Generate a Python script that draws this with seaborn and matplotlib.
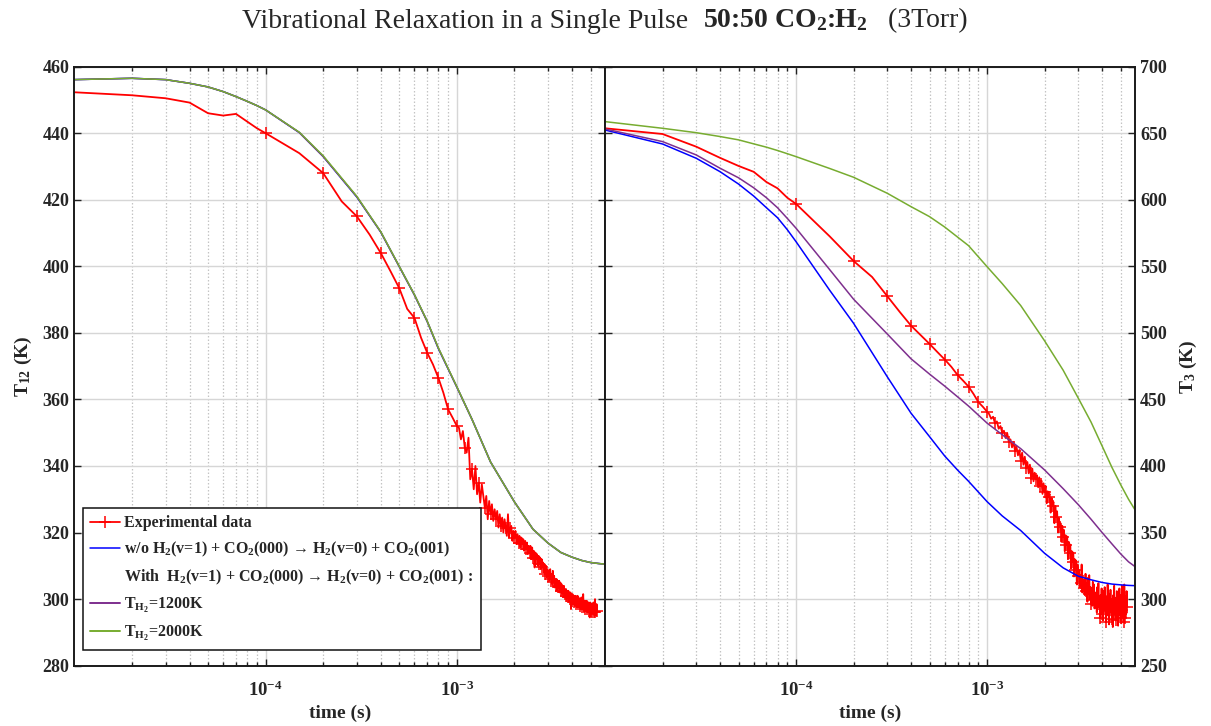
import matplotlib
matplotlib.use("Agg")
import matplotlib.pyplot as plt
import numpy as np
import pandas as pd
import seaborn as sns
from matplotlib.lines import Line2D
from matplotlib.ticker import LogLocator, NullFormatter, FixedLocator, LogFormatterSciNotation

# ---------------- data ----------------
# model time grid (microseconds)
t_model_us = [10, 20, 30, 40, 50, 60, 70, 80, 90, 100, 150, 200, 300, 400, 500, 600, 700, 800,
              1000, 1200, 1500, 2000, 2500, 3000, 3500, 4000, 4500, 5000, 5500, 5950]

# left panel (T12) models
t12_wo = [456.1, 456.5, 456.1, 455.0, 453.9, 452.5, 451.0, 449.6, 448.3, 447.0, 440.2, 433.0, 420.8, 410.3,
          399.9, 391.4, 383.4, 375.3, 363.7, 354.0, 341.2, 329.2, 321.0, 316.8, 314.0, 312.6, 311.6, 311.0, 310.7, 310.5]
t12_1200 = [456.1, 456.5, 456.1, 455.0, 453.9, 452.5, 451.0, 449.6, 448.3, 447.0, 440.2, 433.0, 420.9, 410.3,
            399.9, 391.4, 383.4, 375.4, 363.7, 354.0, 341.2, 329.2, 321.0, 316.8, 314.0, 312.6, 311.6, 311.0, 310.7, 310.5]
t12_2000 = [456.1, 456.5, 456.1, 455.0, 453.9, 452.5, 451.0, 449.6, 448.3, 447.0, 440.3, 433.2, 421.0, 410.4,
            400.0, 391.5, 383.5, 375.5, 363.8, 354.0, 341.2, 329.2, 321.0, 316.8, 314.0, 312.6, 311.6, 311.0, 310.7, 310.5]

# right panel (T3) models
t3_wo = [652.4, 641.9, 631.2, 621.1, 611.8, 602.8, 594.0, 586.5, 577.5, 568.5, 532.0, 507.2, 467.1, 439.6,
         422.0, 407.5, 397.0, 388.5, 373.2, 362.5, 351.5, 334.4, 323.5, 317.2, 314.5, 312.5, 311.3, 310.7, 310.3, 310.1]
t3_1200 = [653.2, 643.7, 633.7, 623.7, 616.5, 609.0, 601.5, 594.0, 586.0, 578.6, 547.5, 525.3, 499.2, 480.5,
           469.0, 460.0, 452.0, 445.0, 432.2, 423.5, 413.0, 397.0, 383.0, 371.0, 360.0, 350.0, 341.5, 334.0, 328.0, 324.4]
t3_2000 = [658.7, 653.7, 650.4, 647.5, 645.0, 642.0, 639.5, 637.0, 634.6, 632.4, 623.5, 616.9, 604.9, 594.8,
           587.3, 579.5, 572.0, 565.5, 549.7, 537.0, 520.5, 494.0, 472.0, 451.0, 433.0, 415.0, 399.0, 386.0, 375.0, 367.0]

# experimental sample times (microseconds)
t_exp_us = list(range(10, 101, 10)) + list(range(150, 1001, 50)) + list(range(1025, 5401, 25))

t12_exp = [
    452.3, 451.4, 450.5, 449.2, 446.0, 445.3, 445.8, 443.5, 441.5, 440.0,
    434.0, 428.0, 419.5, 415.0, 409.5, 404.0, 398.5, 393.4, 387.2, 384.5, 378.5, 374.0, 370.5, 366.5, 362.0, 357.0, 354.5, 352.0,
    351.5, 348.0, 350.5, 345.5,  344.0, 348.5, 336.0, 339.0,  333.0, 340.0, 331.5, 335.0,  329.0, 334.5, 331.0, 327.5,
    331.0, 324.0, 329.5, 325.5,  328.5, 323.5, 327.0, 324.0,  326.5, 321.5, 325.5, 322.0,  324.5, 320.0, 324.0, 321.5,
    319.0, 325.5, 318.5, 321.5,  322.0, 317.5, 320.5, 318.5,  320.5, 316.5, 319.5, 317.0,  319.0, 315.5, 318.5, 316.5,
    318.0, 314.5, 317.5, 315.0,  317.0, 313.5, 316.0, 314.0,  316.0, 312.0, 315.5, 312.5,  314.5, 309.5, 314.0, 312.0,
    313.5, 310.0, 313.0, 310.5,  312.5, 309.0, 312.0, 309.5,  311.0, 308.0, 310.5, 307.5,  310.0, 306.5, 309.0, 307.0,
    308.5, 305.5, 309.0, 306.0,  307.5, 304.5, 308.5, 305.0,  307.0, 303.5, 306.0, 304.0,  306.0, 302.5, 305.5, 303.5,
    305.5, 302.0, 305.0, 302.5,  304.5, 301.5, 304.0, 302.0,  304.0, 300.5, 303.0, 301.0,  303.0, 300.0, 302.5, 300.5,
    302.5, 299.5, 302.0, 300.0,  302.0, 297.0, 301.5, 299.5,  301.5, 298.5, 301.0, 299.0,  301.0, 298.0, 301.0, 298.5,
    300.5, 297.5, 301.0, 298.5,  300.5, 297.5, 300.0, 298.0,  300.0, 297.0, 300.5, 297.5,  299.5, 297.0, 301.5, 297.5,
    299.5, 296.5, 299.5, 297.0,  299.0, 296.5, 299.5, 297.0,  299.0, 296.0, 299.0, 296.5,  298.5, 294.5, 299.0, 296.5,
    298.5, 295.5, 298.5, 296.0,  298.0, 295.5, 299.0, 296.0,  298.0, 295.0, 300.0, 296.0,  297.5, 295.0, 298.5, 296.5,
]

t3_exp = [
    653.7, 649.4, 639.9, 631.5, 625.4, 621.0, 613.3, 608.6, 601.5, 596.9,
    572.5, 554.0, 542.0, 527.7, 515.5, 505.4, 498.2, 491.7, 485.5, 480.0, 474.5, 468.4, 464.0, 459.6, 454.0, 448.0, 444.5, 440.8,
    439.0, 435.5, 437.0, 432.0,  433.5, 428.0, 430.0, 425.0,  426.5, 421.0, 424.5, 418.0,  420.0, 414.0, 418.0, 411.5,
    414.5, 408.0, 412.0, 404.0,  410.0, 401.0, 407.0, 398.5,  403.0, 394.5, 401.0, 391.0,  398.0, 388.5, 395.0, 390.0,
    393.0, 384.0, 391.5, 385.0,  389.0, 379.0, 387.0, 380.5,  385.0, 372.0, 381.0, 377.0,  379.0, 365.0, 376.0, 370.0,
    373.0, 357.0, 370.0, 362.0,  366.0, 350.0, 361.0, 354.0,  357.0, 343.0, 355.0, 347.0,  352.0, 336.0, 348.0, 341.0,
    347.0, 330.0, 343.0, 335.0,  341.0, 323.0, 336.0, 328.0,  335.0, 317.0, 330.0, 322.0,  329.0, 311.0, 326.0, 317.0,
    322.0, 309.0, 318.0, 312.0,  326.0, 305.0, 315.0, 308.0,  314.0, 303.0, 319.0, 306.0,  312.0, 298.0, 316.0, 304.0,
    318.0, 300.0, 309.0, 296.0,  308.0, 295.0, 313.0, 299.0,  311.0, 293.0, 305.0, 297.0,  304.0, 290.0, 309.0, 296.0,
    312.0, 294.0, 301.0, 286.0,  303.0, 292.0, 308.0, 289.0,  301.0, 284.0, 306.0, 294.0,  309.0, 291.0, 299.0, 283.0,
    302.0, 288.0, 311.0, 293.0,  298.0, 281.0, 304.0, 292.0,  307.0, 290.0, 300.0, 285.0,  299.0, 279.0, 303.0, 292.0,
    310.0, 289.0, 297.0, 284.0,  301.0, 286.0, 306.0, 291.0,  298.0, 280.0, 304.0, 293.0,  308.0, 288.0, 299.0, 286.0,
    303.0, 282.0, 310.0, 292.0,  299.0, 287.0, 305.0, 283.0,  311.0, 290.0, 298.0, 286.0,  302.0, 289.0, 306.0, 294.0,
]

left_yticks = [280, 300, 320, 340, 360, 380, 400, 420, 440, 460]
right_yticks = [250, 300, 350, 400, 450, 500, 550, 600, 650, 700]

legend_labels = [
    "Experimental data",
    "w/o H$_2$(v=1) + CO$_2$(000) \u2192 H$_2$(v=0) + CO$_2$(001)",
    "With  H$_2$(v=1) + CO$_2$(000) \u2192 H$_2$(v=0) + CO$_2$(001) :",
    "T$_{H_2}$=1200K",
    "T$_{H_2}$=2000K",
]

title_parts = [("Vibrational Relaxation in a Single Pulse  ", "normal"),
               ("50:50 CO$_2$:H$_2$", "bold"),
               ("   (3Torr)", "normal")]

# ---------------- style ----------------
sns.set_style("white")
plt.rcParams["font.family"] = ["Liberation Serif", "DejaVu Serif"]
plt.rcParams["font.weight"] = "bold"
plt.rcParams["mathtext.fontset"] = "custom"
plt.rcParams["mathtext.rm"] = "Liberation Serif"
plt.rcParams["mathtext.bf"] = "Liberation Serif:bold"
plt.rcParams["mathtext.it"] = "Liberation Serif:italic"
plt.rcParams["mathtext.default"] = "regular"
plt.rcParams["axes.unicode_minus"] = False

C_RED = "#FF0000"
C_BLUE = "#0000FF"
C_PURPLE = "#7E2F8E"
C_GREEN = "#77AC30"

t_model = [v * 1e-6 for v in t_model_us]
t_exp = [v * 1e-6 for v in t_exp_us]
mark_idx = [i for i, v in enumerate(t_exp_us) if v % 100 == 0]

df_exp = pd.DataFrame({"t": t_exp, "T12": t12_exp, "T3": t3_exp})
df_mod = pd.DataFrame({"t": t_model, "T12_wo": t12_wo, "T12_1200": t12_1200, "T12_2000": t12_2000,
                       "T3_wo": t3_wo, "T3_1200": t3_1200, "T3_2000": t3_2000})

fig = plt.figure(figsize=(12.11, 7.26), dpi=100)
axL = fig.add_axes([0.0614, 0.0831, 0.4382, 0.8251])
axR = fig.add_axes([0.4996, 0.0831, 0.4377, 0.8251])

for ax, key, ylim, yt in [(axL, "T12", (280, 460), left_yticks), (axR, "T3", (250, 700), right_yticks)]:
    ax.set_xscale("log")
    ax.set_axisbelow(True)
    sns.lineplot(data=df_exp, x="t", y=key, ax=ax, color=C_RED, linewidth=1.3, estimator=None, sort=False,
                 marker="+", markevery=mark_idx, markersize=8, markeredgewidth=1.1, markeredgecolor=C_RED,
                 legend=False)
    sns.lineplot(data=df_mod, x="t", y=key + "_wo", ax=ax, color=C_BLUE, linewidth=1.1, estimator=None,
                 sort=False, legend=False)
    sns.lineplot(data=df_mod, x="t", y=key + "_1200", ax=ax, color=C_PURPLE, linewidth=1.1, estimator=None,
                 sort=False, legend=False)
    sns.lineplot(data=df_mod, x="t", y=key + "_2000", ax=ax, color=C_GREEN, linewidth=1.1, estimator=None,
                 sort=False, legend=False)
    ax.set_xlim(1e-5, 5.95e-3)
    ax.set_ylim(*ylim)
    ax.set_yticks(yt)
    ax.xaxis.set_major_locator(FixedLocator([1e-4, 1e-3]))
    ax.xaxis.set_major_formatter(LogFormatterSciNotation())
    ax.xaxis.set_minor_locator(LogLocator(base=10, subs=(2, 3, 4, 5, 6, 7, 8, 9), numticks=20))
    ax.xaxis.set_minor_formatter(NullFormatter())
    ax.grid(True, which="major", axis="both", color="#d6d6d6", linewidth=1.0, linestyle="-")
    ax.grid(True, which="minor", axis="x", color="#c4c4c4", linewidth=0.9, linestyle=(0, (1.2, 1.6)))
    ax.tick_params(which="both", direction="in", top=True, bottom=True, left=True, right=True,
                   labelsize=13, width=1.0, color="#222222")
    ax.tick_params(which="major", length=5)
    ax.tick_params(which="minor", length=3)
    ax.tick_params(axis="x", which="major", pad=11, labelsize=13.5)
    for s in ax.spines.values():
        s.set_linewidth(1.4)
        s.set_color("#1a1a1a")
    ax.set_xlabel("time (s)", fontsize=14, fontweight="bold", labelpad=3)

axL.set_ylabel("T$_{12}$ (K)", fontsize=14, fontweight="bold", labelpad=6)
axR.tick_params(labelleft=False, labelright=True)
axR.yaxis.set_label_position("right")
axR.set_ylabel("T$_3$ (K)", fontsize=14, fontweight="bold", labelpad=8)

for lab in axL.get_xticklabels() + axR.get_xticklabels() + axL.get_yticklabels() + axR.get_yticklabels():
    lab.set_fontweight("bold")

handles = [
    Line2D([], [], color=C_RED, linewidth=1.3, marker="+", markersize=8, markeredgewidth=1.1),
    Line2D([], [], color=C_BLUE, linewidth=1.1),
    Line2D([], [], color="none", linewidth=0),
    Line2D([], [], color=C_PURPLE, linewidth=1.4),
    Line2D([], [], color=C_GREEN, linewidth=1.4),
]
leg = axL.legend(handles, legend_labels, loc="lower left", bbox_to_anchor=(0.0158, 0.026), borderaxespad=0,
                 frameon=True, fancybox=False, framealpha=1, edgecolor="#111111",
                 prop={"family": ["Liberation Serif", "DejaVu Serif"], "weight": "bold", "size": 11.5},
                 handlelength=1.9, handletextpad=0.25, borderpad=0.45, labelspacing=0.55)
leg.get_frame().set_linewidth(1.1)

# title assembled from normal + bold pieces, centred on the figure
renderer = fig.canvas.get_renderer()
W = fig.get_figwidth() * fig.dpi
title_texts = []
for s, w in title_parts:
    title_texts.append(fig.text(0, 0.962, s, ha="left", va="baseline", fontsize=20, fontweight=w))
widths = [t.get_window_extent(renderer).width for t in title_texts]
x = 605 - sum(widths) / 2.0
for t, w in zip(title_texts, widths):
    t.set_x(x / W)
    x += w

fig.savefig("out.png", dpi=100)
